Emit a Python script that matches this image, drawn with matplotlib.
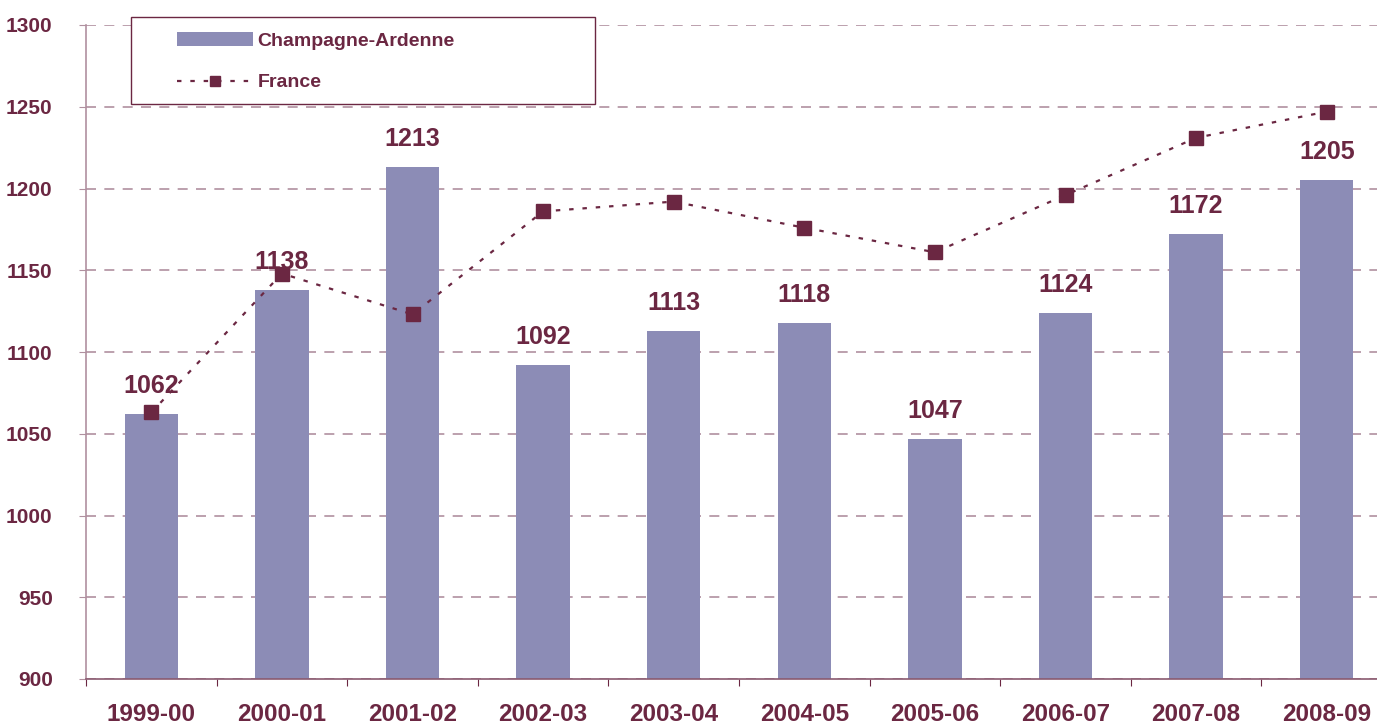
import numpy as np
import matplotlib
matplotlib.use("Agg")
from matplotlib import pyplot as plt
from matplotlib.patches import Rectangle

plt.rcParams['font.family'] = ['Liberation Sans', 'DejaVu Sans']
plt.rcParams['font.weight'] = 'bold'

# values
seasons = ['1999-00', '2000-01', '2001-02', '2002-03', '2003-04',
           '2004-05', '2005-06', '2006-07', '2007-08', '2008-09']
champagne = [1062, 1138, 1213, 1092, 1113, 1118, 1047, 1124, 1172, 1205]
france = [1063, 1148, 1123, 1186, 1192, 1176, 1161, 1196, 1231, 1247]
yticks = np.arange(900, 1301, 50)

maroon = '#6B2742'
bar_col = '#8C8CB6'
grid_col = '#B0909F'

fig = plt.figure(figsize=(13.77, 7.25), dpi=100)
ax = fig.add_axes([86 / 1377, 1 - 679 / 725, 1291 / 1377, 654 / 725])

x = np.arange(len(seasons))
bars = ax.bar(x, champagne, width=0.41, color=bar_col, label='Champagne-Ardenne', zorder=2)
line, = ax.plot(x, france, color=maroon, lw=1.6, linestyle=(0, (2.0, 4.0)),
                marker='s', markersize=10, label='France', zorder=3)

for xi, v in zip(x, champagne):
    ax.annotate(str(v), (xi, v), xytext=(0, 15), textcoords='offset points',
                ha='center', va='baseline', fontsize=18, color=maroon,
                fontweight='bold')

# ticks between categories, labels at centres
ax.set_xticks(np.arange(-0.5, 10, 1))
ax.set_xticklabels([])
ax.set_xticks(x, minor=True)
ax.set_xticklabels(seasons, minor=True, fontweight='bold')
ax.set_yticks(yticks)
ax.set_yticklabels([str(v) for v in yticks], fontweight='bold')
ax.set_ylim(900, 1300)
ax.set_xlim(-0.5, 9.385)

ax.tick_params(axis='x', which='major', direction='out', length=5, color=maroon)
ax.tick_params(axis='x', which='minor', length=0, pad=17, labelsize=17.5,
               labelcolor=maroon)
ax.tick_params(axis='y', direction='out', length=5, color=grid_col, pad=19,
               labelsize=15, labelcolor=maroon)

ax.yaxis.grid(True, color=grid_col, linestyle=(0, (6, 5)), lw=1.2, zorder=0)
ax.set_axisbelow(True)
for s in ['top', 'right']:
    ax.spines[s].set_visible(False)
ax.spines['left'].set_color(grid_col)
ax.spines['left'].set_linewidth(1.2)
ax.spines['bottom'].set_color('#8A5A70')
ax.spines['bottom'].set_linewidth(1.2)

# legend frame drawn separately so the entries can sit further inside it
ax.add_patch(Rectangle((0.0349, 0.8792), 0.3594, 0.133, transform=ax.transAxes,
                       facecolor='white', edgecolor=maroon, lw=1.0,
                       clip_on=False, zorder=4))
leg = ax.legend([bars, line], ['Champagne-Ardenne', 'France'],
                loc='upper left', bbox_to_anchor=(0.0705, 0.9893),
                fontsize=14, handlelength=3.9, handletextpad=0.25,
                labelspacing=1.24, borderpad=0, borderaxespad=0, frameon=False,
                markerscale=0.75)
leg.set_zorder(5)
for t in leg.get_texts():
    t.set_color(maroon)
    t.set_fontweight('bold')

fig.savefig('out.png', dpi=100)
